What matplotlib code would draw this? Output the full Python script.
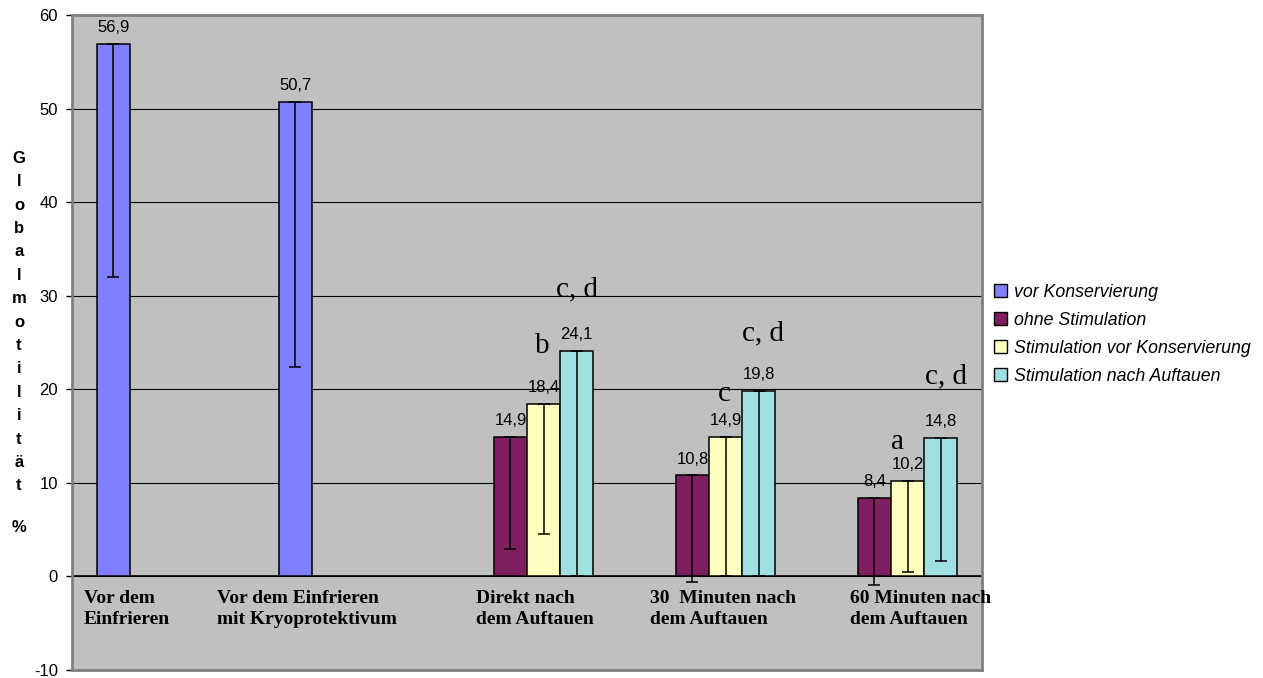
import numpy as np
import matplotlib
matplotlib.use("Agg")
import matplotlib.pyplot as plt
from matplotlib.patches import Patch

plt.rcParams["axes.unicode_minus"] = False

# Kategorien (x-Achse)
kategorien = ["Vor dem\nEinfrieren",
              "Vor dem Einfrieren\nmit Kryoprotektivum",
              "Direkt nach\ndem Auftauen",
              "30  Minuten nach\ndem Auftauen",
              "60 Minuten nach\ndem Auftauen"]

serien = ["vor Konservierung", "ohne Stimulation",
          "Stimulation vor Konservierung", "Stimulation nach Auftauen"]

# Mittelwerte je Serie (nan = kein Balken)
vor_konservierung = [56.9, 50.7, np.nan, np.nan, np.nan]
ohne_stimulation = [np.nan, np.nan, 14.9, 10.8, 8.4]
stim_vor_konserv = [np.nan, np.nan, 18.4, 14.9, 10.2]
stim_nach_auftauen = [np.nan, np.nan, 24.1, 19.8, 14.8]

# untere Enden der Fehlerbalken
unten_vor_konserv = [32.0, 22.4, np.nan, np.nan, np.nan]
unten_ohne = [np.nan, np.nan, 2.9, -0.6, -0.9]
unten_stim_vor = [np.nan, np.nan, 4.5, 0.0, 0.5]
unten_stim_nach = [np.nan, np.nan, 0.0, 0.0, 1.6]

# Signifikanz-Buchstaben: (Kategorie, Serie, Text)
signifikanz = [(2, 2, "b"), (2, 3, "c, d"),
               (3, 2, "c"), (3, 3, "c, d"),
               (4, 2, "a"), (4, 3, "c, d")]
sig_offset = [(-1, 37), (0, 39), (-1, 26), (3, 36.5), (-7, 23), (4, 39)]

werte = [vor_konservierung, ohne_stimulation, stim_vor_konserv, stim_nach_auftauen]
unten = [unten_vor_konserv, unten_ohne, unten_stim_vor, unten_stim_nach]
farben = ["#8080FF", "#7F1F5F", "#FFFFC0", "#A0E0E0"]

fig = plt.figure(figsize=(12.63, 6.78), dpi=100)
ax = fig.add_axes([0.057, 0.0118, 0.7205, 0.966])
ax.set_facecolor("#C0C0C0")

n = len(serien)
breite = 1.0 / (n + 1.5)
x = np.arange(len(kategorien))

ax.set_ylim(-10, 60)
ax.set_xlim(-0.5, len(kategorien) - 0.5)
ax.set_yticks(range(-10, 61, 10))
ax.yaxis.grid(True, color="black", linewidth=0.8)
ax.set_axisbelow(True)
ax.axhline(0, color="black", linewidth=1.2, zorder=1)

for i in range(n):
    xs = x + (i - (n - 1) / 2) * breite
    v = np.array(werte[i])
    lo = np.array(unten[i])
    ax.bar(xs, v, width=breite, color=farben[i], edgecolor="black", linewidth=1.1, zorder=2)
    err = [v - lo, np.zeros_like(v)]
    ax.errorbar(xs, v, yerr=err, fmt="none", ecolor="black", elinewidth=1.1,
                capsize=4.5, capthick=1.1, zorder=3)
    for xi, vi in zip(xs, v):
        if np.isnan(vi):
            continue
        ax.annotate(f"{vi:.1f}".replace(".", ","), (xi, vi), xytext=(0, 8.5),
                    textcoords="offset points", ha="center", va="baseline",
                    fontsize=12, family="Liberation Sans")

for (k, s, txt), (dx, dy) in zip(signifikanz, sig_offset):
    xi = x[k] + (s - (n - 1) / 2) * breite
    ax.annotate(txt, (xi, werte[s][k]), xytext=(dx, dy), textcoords="offset points",
                ha="center", va="baseline", fontsize=21, family="Liberation Serif")

# Kategorie-Beschriftungen (linksbündig wie im Original)
label_x = [-0.434, 0.297, 1.72, 2.676, 3.775]
for lx, lab in zip(label_x, kategorien):
    ax.text(lx, -1.5, lab, ha="left", va="top", fontsize=14, fontweight="bold",
            family="Liberation Serif", linespacing=1.3)

ax.set_xticks([])
for sp in ax.spines.values():
    sp.set_color("#808080")
    sp.set_linewidth(2)
ax.tick_params(axis="y", direction="out", length=4.5, width=1, color="black",
               labelsize=12, pad=5.5)
for t in ax.get_yticklabels():
    t.set_family("Liberation Sans")

# senkrechte Achsenbeschriftung
fig.text(0.015, 0.525, "\n".join("Globalmotilität"), ha="center", va="center",
         fontsize=12, fontweight="bold", family="Liberation Sans", linespacing=1.70)
fig.text(0.015, 1 - 528 / 678, "%", ha="center", va="center",
         fontsize=12, fontweight="bold", family="Liberation Sans")

handles = [Patch(facecolor=c, edgecolor="black", linewidth=1) for c in farben]
leg = fig.legend(handles, serien, loc="center left", bbox_to_anchor=(0.780, 0.507),
                 frameon=False, borderpad=0, handlelength=0.75, handleheight=0.75,
                 handletextpad=0.4, labelspacing=0.62,
                 prop={"family": "Liberation Sans", "style": "italic", "size": 12.8})

fig.savefig("out.png", dpi=100)
